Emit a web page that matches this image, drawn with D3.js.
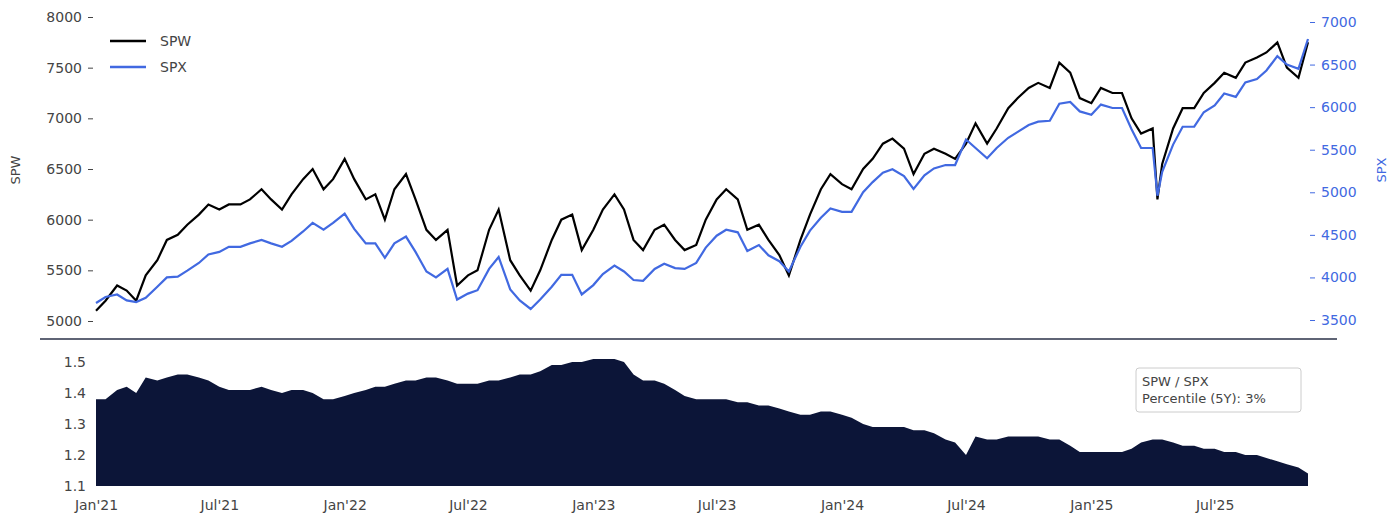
<!DOCTYPE html>
<html><head><meta charset="utf-8">
<script src="https://cdn.jsdelivr.net/npm/d3@7/dist/d3.min.js"></script>
<style>body{margin:0;background:#fff;font-family:"DejaVu Sans",sans-serif;}</style>
</head><body><svg id="c" width="1400" height="520"></svg>
<script>
const monthsSemi = [];
["2021","2022","2023","2024"].forEach(y=>{for(let m=1;m<=12;m++){const mm=String(m).padStart(2,"0");monthsSemi.push(`${y}-${mm}-01`,`${y}-${mm}-15`);}});
const dates2025 = ["2025-01-01","2025-01-15","2025-02-01","2025-02-15","2025-03-01","2025-03-15","2025-04-01","2025-04-08","2025-04-15","2025-05-01","2025-05-15","2025-06-01","2025-06-15","2025-07-01","2025-07-15","2025-08-01","2025-08-15","2025-09-01","2025-09-15","2025-10-01","2025-10-15","2025-11-01","2025-11-15"];
const dates = monthsSemi.concat(dates2025);

const spw = [
5100,5200,5350,5300,5200,5450,5600,5800,5850,5950,6050,6150,6100,6150,6150,6200,6300,6200,6100,6250,6400,6500,6300,6400,
6600,6400,6200,6250,6000,6300,6450,6200,5900,5800,5900,5350,5450,5500,5900,6100,5600,5450,5300,5500,5800,6000,6050,5700,
5900,6100,6250,6100,5800,5700,5900,5950,5800,5700,5750,6000,6200,6300,6200,5900,5950,5800,5650,5450,5800,6050,6300,6450,
6350,6300,6500,6600,6750,6800,6700,6450,6650,6700,6650,6600,6750,6950,6750,6900,7100,7200,7300,7350,7300,7550,7450,7200,
7150,7300,7250,7250,7000,6850,6900,6200,6550,6900,7100,7100,7250,7350,7450,7400,7550,7600,7650,7750,7500,7400,7750];
const spx = [
3700,3770,3800,3730,3710,3760,3890,4000,4010,4080,4170,4270,4300,4360,4360,4400,4440,4400,4360,4430,4540,4640,4560,4640,
4750,4570,4400,4400,4230,4400,4480,4300,4070,4000,4100,3740,3810,3850,4100,4240,3860,3730,3630,3740,3890,4030,4030,3800,
3910,4040,4140,4070,3970,3960,4100,4160,4110,4100,4170,4350,4490,4560,4530,4310,4380,4260,4190,4070,4360,4550,4700,4810,
4770,4770,5000,5120,5230,5270,5190,5040,5200,5280,5320,5320,5620,5520,5400,5520,5640,5710,5790,5830,5840,6040,6060,5950,
5910,6030,5990,5990,5740,5520,5520,4960,5240,5560,5770,5770,5940,6020,6160,6120,6290,6330,6430,6600,6500,6450,6800];
const ratio = [
1.38,1.38,1.41,1.42,1.40,1.45,1.44,1.45,1.46,1.46,1.45,1.44,1.42,1.41,1.41,1.41,1.42,1.41,1.40,1.41,1.41,1.40,1.38,1.38,
1.39,1.40,1.41,1.42,1.42,1.43,1.44,1.44,1.45,1.45,1.44,1.43,1.43,1.43,1.44,1.44,1.45,1.46,1.46,1.47,1.49,1.49,1.50,1.50,
1.51,1.51,1.51,1.50,1.46,1.44,1.44,1.43,1.41,1.39,1.38,1.38,1.38,1.38,1.37,1.37,1.36,1.36,1.35,1.34,1.33,1.33,1.34,1.34,
1.33,1.32,1.30,1.29,1.29,1.29,1.29,1.28,1.28,1.27,1.25,1.24,1.20,1.26,1.25,1.25,1.26,1.26,1.26,1.26,1.25,1.25,1.23,1.21,
1.21,1.21,1.21,1.21,1.22,1.24,1.25,1.25,1.25,1.24,1.23,1.23,1.22,1.22,1.21,1.21,1.20,1.20,1.19,1.18,1.17,1.16,1.14];
const spwTicks=[5000,5500,6000,6500,7000,7500,8000];
const spxTicks=[3500,4000,4500,5000,5500,6000,6500,7000];
const ratioTicks=[1.1,1.2,1.3,1.4,1.5];
const xTickDates=["2021-01-01","2021-07-01","2022-01-01","2022-07-01","2023-01-01","2023-07-01","2024-01-01","2024-07-01","2025-01-01","2025-07-01"];
const xTickLabels=["Jan'21","Jul'21","Jan'22","Jul'22","Jan'23","Jul'23","Jan'24","Jul'24","Jan'25","Jul'25"];

const P=d3.timeParse("%Y-%m-%d");
const D=dates.map(P);
const svg=d3.select("#c");
const x=d3.scaleTime().domain([P("2021-01-01"),D[D.length-1]]).range([96,1308]);
const yL=d3.scaleLinear().domain([5000,8000]).range([321,17]);
const yR=d3.scaleLinear().domain([3500,7000]).range([320,22]);
const yB=d3.scaleLinear().domain([1.1,1.5]).range([486,362]);
const txt="#444", blue="#4169e1";

const aL=svg.append("g").attr("transform","translate(93,0)").call(d3.axisLeft(yL).tickValues(spwTicks).tickSize(5).tickPadding(6).tickFormat(d3.format("d")));
const aR=svg.append("g").attr("transform","translate(1310,0)").call(d3.axisRight(yR).tickValues(spxTicks).tickSize(5).tickPadding(6).tickFormat(d3.format("d")));
aL.select(".domain").remove(); aR.select(".domain").remove();
aL.selectAll("text").attr("fill",txt).style("font-size","14px").style("font-family","DejaVu Sans");
aL.selectAll("line").attr("stroke",txt);
aR.selectAll("text").attr("fill",blue).style("font-size","14px").style("font-family","DejaVu Sans");
aR.selectAll("line").attr("stroke",blue);
svg.append("text").attr("transform","translate(20,170) rotate(-90)").attr("text-anchor","middle").attr("fill",txt).style("font-size","13px").text("SPW");
svg.append("text").attr("transform","translate(1386,170) rotate(-90)").attr("text-anchor","middle").attr("fill",blue).style("font-size","13px").text("SPX");

const lw=d3.line().x((d,i)=>x(D[i])).y(d=>yL(d));
const lx=d3.line().x((d,i)=>x(D[i])).y(d=>yR(d));
svg.append("path").attr("d",lw(spw)).attr("fill","none").attr("stroke","#000").attr("stroke-width",2.2);
svg.append("path").attr("d",lx(spx)).attr("fill","none").attr("stroke",blue).attr("stroke-width",2.2);

[["SPW","#000",41],["SPX",blue,67]].forEach(([t,c,y])=>{
 svg.append("line").attr("x1",110).attr("x2",146).attr("y1",y).attr("y2",y).attr("stroke",c).attr("stroke-width",2.5);
 svg.append("text").attr("x",160).attr("y",y+5).attr("fill",txt).style("font-size","14px").text(t);
});

svg.append("line").attr("x1",40).attr("x2",1337).attr("y1",339).attr("y2",339).attr("stroke","#2a3047").attr("stroke-width",1.5);

const ar=d3.area().x((d,i)=>x(D[i])).y0(yB(1.1)).y1(d=>yB(d));
svg.append("path").attr("d",ar(ratio)).attr("fill","#0c1538");

const aB=svg.append("g").attr("transform","translate(92,0)").call(d3.axisLeft(yB).tickValues(ratioTicks).tickSize(0).tickPadding(6).tickFormat(d3.format(".1f")));
aB.select(".domain").remove();
aB.selectAll("text").attr("fill",txt).style("font-size","14px").style("font-family","DejaVu Sans");

const aX=svg.append("g").attr("transform","translate(0,492)").call(d3.axisBottom(x).tickValues(xTickDates.map(P)).tickSize(0).tickPadding(8).tickFormat((d,i)=>xTickLabels[i]));
aX.select(".domain").remove();
aX.selectAll("text").attr("fill",txt).style("font-size","14px").style("font-family","DejaVu Sans");

const box=svg.append("g");
box.append("rect").attr("x",1136).attr("y",368).attr("width",165).attr("height",44).attr("rx",3).attr("fill","#fff").attr("stroke","#ccc");
box.append("text").attr("x",1142).attr("y",386).attr("fill",txt).style("font-size","13px").text("SPW / SPX");
box.append("text").attr("x",1142).attr("y",403).attr("fill",txt).style("font-size","13px").text("Percentile (5Y): 3%");
</script></body></html>
